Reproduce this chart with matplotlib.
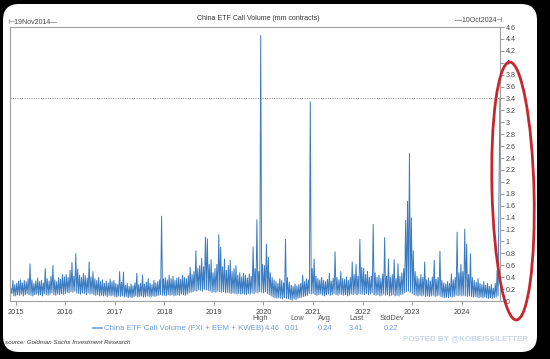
import numpy as np
import pandas as pd
import matplotlib
matplotlib.use("Agg")
import matplotlib.pyplot as plt
from matplotlib.patches import FancyBboxPatch, Ellipse

# ---------------- data (bi-weekly low / high readings, mm contracts) ----------------
start_date = "2014-11-19"
end_date = "2024-10-10"

highs2014 = [0.22, 0.35, 0.28]
lows2014 = [0.10, 0.12, 0.08]
highs2015 = [0.30, 0.34, 0.36, 0.31, 0.35, 0.33, 0.38, 0.63, 0.36, 0.30, 0.34, 0.39, 0.33,
             0.35, 0.31, 0.55, 0.38, 0.34, 0.42, 0.60, 0.36, 0.33, 0.40, 0.37, 0.45, 0.41]
lows2015 = [0.08, 0.10, 0.09, 0.11, 0.08, 0.10, 0.12, 0.10, 0.09, 0.08, 0.10, 0.11, 0.09,
            0.10, 0.08, 0.12, 0.10, 0.09, 0.11, 0.13, 0.10, 0.09, 0.11, 0.10, 0.12, 0.11]
highs2016 = [0.45, 0.40, 0.52, 0.65, 0.42, 0.80, 0.54, 0.44, 0.40, 0.47, 0.43, 0.39, 0.66,
             0.41, 0.50, 0.38, 0.35, 0.40, 0.33, 0.36, 0.30, 0.34, 0.31, 0.37, 0.33, 0.35]
lows2016 = [0.12, 0.14, 0.13, 0.15, 0.14, 0.16, 0.13, 0.12, 0.11, 0.13, 0.12, 0.10, 0.13,
            0.11, 0.12, 0.10, 0.09, 0.10, 0.08, 0.09, 0.08, 0.09, 0.07, 0.09, 0.08, 0.09]
highs2017 = [0.30, 0.28, 0.50, 0.32, 0.49, 0.27, 0.30, 0.25, 0.29, 0.26, 0.31, 0.47, 0.28,
             0.30, 0.44, 0.29, 0.32, 0.38, 0.30, 0.28, 0.35, 0.31, 0.33, 0.36, 1.43, 0.38]
lows2017 = [0.07, 0.06, 0.08, 0.07, 0.08, 0.06, 0.07, 0.05, 0.06, 0.05, 0.07, 0.08, 0.06,
            0.07, 0.08, 0.06, 0.07, 0.08, 0.07, 0.06, 0.08, 0.07, 0.08, 0.09, 0.10, 0.09]
highs2018 = [0.40, 0.36, 0.44, 0.38, 0.42, 0.35, 0.39, 0.41, 0.37, 0.44, 0.40, 0.38, 0.43,
             0.57, 0.45, 0.50, 0.85, 0.55, 0.60, 0.72, 0.58, 1.08, 1.05, 0.62, 0.70, 0.48]
lows2018 = [0.09, 0.08, 0.10, 0.09, 0.10, 0.08, 0.09, 0.10, 0.09, 0.11, 0.10, 0.09, 0.11,
            0.13, 0.14, 0.15, 0.17, 0.16, 0.18, 0.17, 0.16, 0.19, 0.18, 0.17, 0.16, 0.14]
highs2019 = [0.55, 0.62, 1.12, 0.91, 0.58, 0.71, 0.52, 0.60, 0.69, 0.50, 0.55, 0.60, 0.44,
             0.48, 0.41, 0.47, 0.44, 0.39, 0.46, 0.42, 0.91, 0.55, 1.37, 0.50, 4.46, 0.62]
lows2019 = [0.15, 0.14, 0.16, 0.15, 0.14, 0.15, 0.13, 0.14, 0.13, 0.12, 0.13, 0.12, 0.11,
            0.12, 0.11, 0.12, 0.11, 0.10, 0.12, 0.11, 0.13, 0.12, 0.14, 0.13, 0.15, 0.14]
highs2020 = [0.60, 0.96, 0.74, 0.48, 0.40, 0.36, 0.33, 0.30, 0.38, 0.35, 0.31, 1.04, 0.40,
             0.32, 0.27, 0.25, 0.29, 0.26, 0.28, 0.30, 0.44, 0.33, 0.38, 0.36, 3.35, 0.55]
lows2020 = [0.13, 0.15, 0.12, 0.10, 0.08, 0.06, 0.05, 0.04, 0.05, 0.04, 0.03, 0.05, 0.04,
            0.03, 0.02, 0.01, 0.03, 0.02, 0.04, 0.05, 0.06, 0.07, 0.08, 0.09, 0.12, 0.11]
highs2021 = [0.71, 0.42, 0.38, 0.36, 0.40, 0.35, 0.33, 0.37, 0.47, 0.34, 0.39, 0.83, 0.40,
             0.36, 0.50, 0.38, 0.37, 0.41, 0.35, 0.40, 0.66, 0.45, 0.62, 0.42, 1.04, 0.57]
lows2021 = [0.12, 0.10, 0.09, 0.10, 0.11, 0.09, 0.08, 0.10, 0.11, 0.09, 0.10, 0.12, 0.10,
            0.09, 0.11, 0.10, 0.09, 0.10, 0.08, 0.09, 0.11, 0.10, 0.12, 0.10, 0.12, 0.11]
highs2022 = [0.55, 0.45, 0.50, 0.40, 0.42, 1.29, 0.48, 0.40, 0.44, 0.38, 0.46, 1.07, 0.42,
             0.71, 0.40, 0.45, 0.70, 0.38, 0.63, 0.42, 0.48, 0.55, 1.36, 1.68, 2.48, 1.40]
lows2022 = [0.11, 0.10, 0.12, 0.10, 0.11, 0.13, 0.10, 0.09, 0.10, 0.08, 0.09, 0.11, 0.09,
            0.10, 0.08, 0.09, 0.10, 0.08, 0.09, 0.08, 0.10, 0.11, 0.13, 0.15, 0.16, 0.14]
highs2023 = [0.85, 0.50, 0.42, 0.38, 0.45, 0.40, 0.66, 0.36, 0.39, 0.34, 0.41, 0.69, 0.37,
             0.40, 0.84, 0.35, 0.31, 0.29, 0.33, 0.30, 0.46, 0.36, 0.40, 1.16, 0.48, 0.62]
lows2023 = [0.12, 0.10, 0.09, 0.08, 0.09, 0.08, 0.09, 0.07, 0.08, 0.07, 0.08, 0.09, 0.07,
            0.08, 0.09, 0.07, 0.06, 0.05, 0.06, 0.05, 0.07, 0.06, 0.07, 0.09, 0.08, 0.09]
highs2024 = [0.50, 1.21, 0.96, 0.45, 0.80, 0.40, 0.35, 0.32, 0.38, 0.30, 0.28, 0.33, 0.27,
             0.30, 0.25, 0.28, 0.22, 0.30, 0.52, 1.91]
lows2024 = [0.08, 0.09, 0.08, 0.07, 0.08, 0.07, 0.06, 0.07, 0.06, 0.05, 0.06, 0.05, 0.06,
            0.05, 0.04, 0.05, 0.04, 0.05, 0.06, 0.08]
last_value = 3.41

stat_names = ["High", "Low", "Avg", "Last", "StdDev"]
stat_values = ["4.46", "0.01", "0.24", "3.41", "0.22"]
year_labels = [str(y) for y in range(2015, 2025)]
y_ticks = [round(0.2 * i, 1) for i in range(24)]

title = "China ETF Call Volume (mm contracts)"
series_name = "China ETF Call Volume (FXI + EEM + KWEB)"

# ---------------- assemble series ----------------
highs = (highs2014 + highs2015 + highs2016 + highs2017 + highs2018 + highs2019 +
         highs2020 + highs2021 + highs2022 + highs2023 + highs2024)
lows = (lows2014 + lows2015 + lows2016 + lows2017 + lows2018 + lows2019 +
        lows2020 + lows2021 + lows2022 + lows2023 + lows2024)
vals = []
for lo, hi in zip(lows, highs):
    vals += [lo, hi]
vals.append(last_value)
dates = pd.date_range(start_date, end_date, periods=len(vals))

# ---------------- figure ----------------
W, H = 550, 359
fig = plt.figure(figsize=(W / 100, H / 100), dpi=100, facecolor="black")
fam = ["Liberation Sans", "DejaVu Sans"]

bg = fig.add_axes([0, 0, 1, 1])
bg.set_xlim(0, W)
bg.set_ylim(H, 0)
bg.axis("off")
bg.add_patch(FancyBboxPatch((3, 4), 534, 348, boxstyle="round,pad=0,rounding_size=16",
                            facecolor="white", edgecolor="none"))

# main axes in pixel positions
L, R, T, B = 10, 500, 27, 301
ax = fig.add_axes([L / W, 1 - B / H, (R - L) / W, (B - T) / H])
ax.set_facecolor("white")
line_color = "#3a7bc1"
ax.plot(dates, vals, color=line_color, lw=0.7, solid_joinstyle="miter")
ax.axhline(last_value, color="#777777", lw=0.6, ls=(0, (1.2, 1.6)))
ax.set_xlim(pd.Timestamp(start_date), pd.Timestamp(end_date))
ax.set_ylim(0, 4.6)

ax.yaxis.tick_right()
ax.set_yticks(y_ticks)
ax.set_yticklabels(["%g" % v for v in y_ticks])
ax.set_xticks([pd.Timestamp(f"{y}-01-01") for y in year_labels])
ax.set_xticklabels(year_labels)
for lab in ax.get_xticklabels() + ax.get_yticklabels():
    lab.set_family(fam)
ax.tick_params(axis="y", length=3, width=0.6, color="#888888", labelsize=5.1,
               labelcolor="#444444", pad=1)
ax.tick_params(axis="x", length=3, width=0.6, color="#888888", labelsize=5.3,
               labelcolor="#444444", pad=2.5)
for s in ax.spines.values():
    s.set_color("#a0a0a0")
    s.set_linewidth(0.8)

# header texts
bg.text(258, 18, title, ha="center", va="center", fontsize=5, color="#333333", family=fam)
bg.text(8, 23, "⊢19Nov2014—", ha="left", va="center", fontsize=5.0, color="#444444", family=fam)
bg.text(503, 21, "—10Oct2024⊣", ha="right", va="center", fontsize=5.0, color="#444444", family=fam)

# legend & stats
leg_color = "#6f9fd8"
bg.plot([93, 102], [328, 328], color=leg_color, lw=1.2)
bg.text(104, 328, series_name, ha="left", va="center", fontsize=5.7, color=leg_color, family=fam)
stat_x = [272, 292, 325, 356, 391]
head_x = [260, 297, 324, 357, 392]
for nm, vv, xx, hx in zip(stat_names, stat_values, stat_x, head_x):
    bg.text(hx, 318.5, nm, ha="center", va="center", fontsize=5.4, color="#555555", family=fam)
    bg.text(xx, 328, vv, ha="center", va="center", fontsize=5.4, color=leg_color, family=fam)

bg.text(5, 342, "source: Goldman Sachs Investment Research", ha="left", va="center",
        fontsize=4.4, style="italic", color="#333333", family=fam)
bg.text(528, 339, "POSTED BY @KOBEISSILETTER", ha="right", va="center", fontsize=5.8,
        fontweight="bold", color="#c6d6ea", family=fam)

# red ellipse overlay
ov = fig.add_axes([0, 0, 1, 1])
ov.set_xlim(0, W)
ov.set_ylim(H, 0)
ov.axis("off")
ov.patch.set_alpha(0)
ov.add_patch(Ellipse((513, 191), 42, 258, angle=-1.5, facecolor="none",
                     edgecolor="#c62630", lw=2.0))

fig.savefig("out.png", dpi=100, facecolor="black")
